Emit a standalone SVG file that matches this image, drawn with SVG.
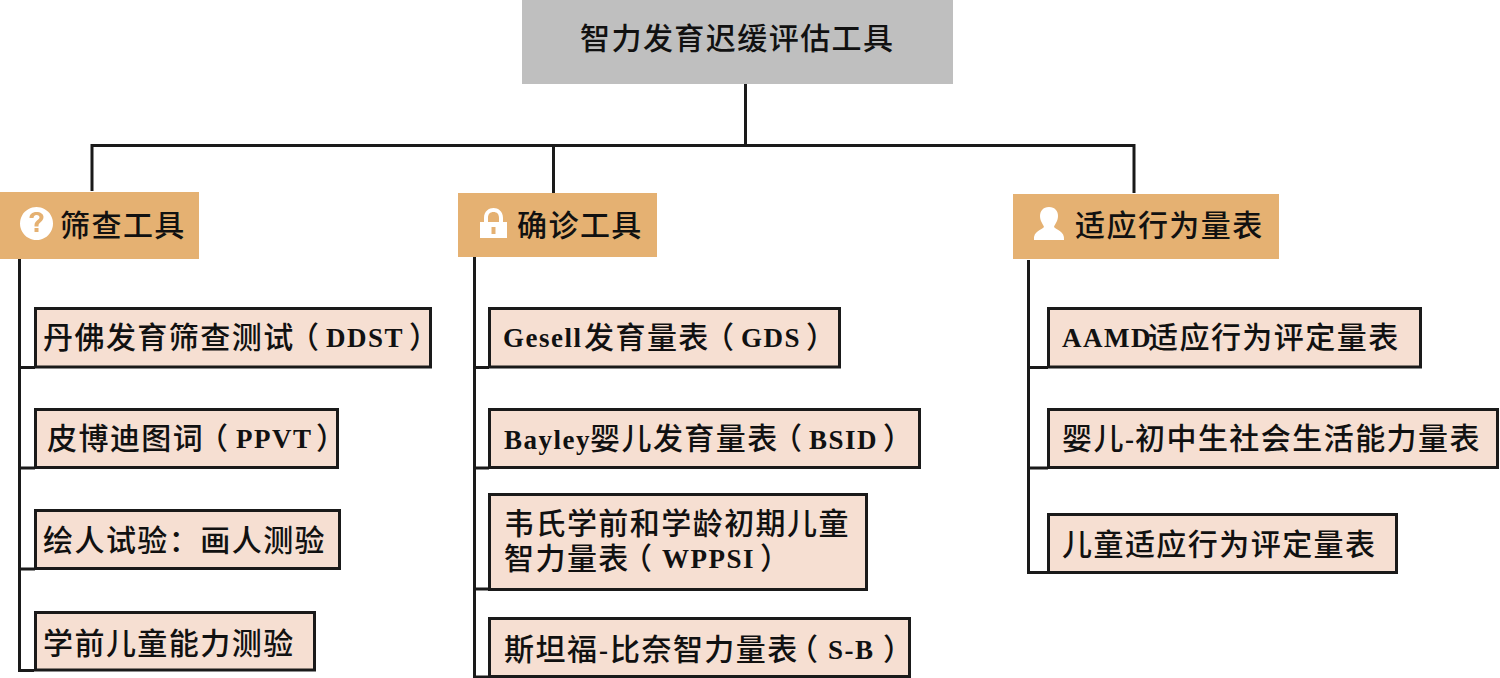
<svg xmlns="http://www.w3.org/2000/svg" width="1500" height="678" viewBox="0 0 1500 678">
<style>
text{font-family:"Noto Sans CJK SC","Liberation Serif",serif;font-size:30px;fill:#111;font-weight:500;letter-spacing:1.45px}
.l{font-family:"Liberation Serif","Noto Sans CJK SC",serif;font-weight:700;font-size:27px;letter-spacing:1.5px}
.root{fill:#bfbfbf}
.cat{fill:#e5b172}
.item{fill:#f6dfd2;stroke:#1a1a1a;stroke-width:3}
.ic{fill:#fff}
#connectors path{fill:none;stroke:#1a1a1a;stroke-width:3}
</style>
<g id="connectors">
<path d="M745.500 84V145.500M92 191V145.500H1134V193M553.500 145.500V193"/>
<path d="M19.500 259V670.500H34M19.500 367.500H35M19.500 468H35M19.500 569H35"/>
<path d="M474.500 257V677H489M474.500 367.500H489M474.500 468H489M474.500 589H489"/>
<path d="M1028.500 260V572.500H1048M1028.500 367.500H1048M1028.500 468H1048"/>
</g>
<g id="root"><rect class="root" x="522" y="0" width="431" height="84"/><text x="580" y="49">智力发育迟缓评估工具</text></g>
<g id="cat1"><rect class="cat" x="0" y="192" width="199" height="67"/>
<path class="ic" fill-rule="evenodd" d="M36.500 207a16.500 16.500 0 1 0 .01 0ZM36.500 212c-4.500 0-7 2.500-7 6h4c0-1.500 1-3 3-3s3 1 3 2.500c0 2.500-5 3-5 8v1h4v-1c0-3 5-4 5-8.500 0-3-3-5-7-5ZM34.500 228h4v4h-4Z"/>
<text x="60" y="236">筛查工具</text></g>
<g id="cat2"><rect class="cat" x="458" y="193" width="199" height="64"/>
<path class="ic" fill-rule="evenodd" d="M480 222h4v-4c0-7 5-10 9.500-10s9.500 3 9.500 10v4h4v16h-27ZM488 222h11v-4c0-4-2-6-5.500-6s-5.500 2-5.500 6ZM491.500 227v7h4v-7Z"/>
<text x="517" y="236">确诊工具</text></g>
<g id="cat3"><rect class="cat" x="1013" y="194" width="266" height="65"/>
<path class="ic" d="M1049 207c6 0 9 4 9 9s-3 8-4 11c2 3 11 4 10 13h-30c-1-9 8-10 10-13-1-3-4-6-4-11s3-9 9-9Z"/>
<text x="1075" y="236">适应行为量表</text></g>
<g id="a1"><rect class="item" x="35.500" y="308.500" width="395" height="58.500"/><text x="43" y="348">丹佛发育筛查测试<tspan x="289">（</tspan><tspan class="l" x="326" y="347">DDST</tspan><tspan x="409" y="348">）</tspan></text></g>
<g id="a2"><rect class="item" x="35.500" y="409.500" width="302" height="58"/><text x="47" y="449">皮博迪图词<tspan x="198">（</tspan><tspan class="l" x="236" y="448">PPVT</tspan><tspan x="316" y="449">）</tspan></text></g>
<g id="a3"><rect class="item" x="35.500" y="510.500" width="304" height="58"/><text x="43" y="551">绘人试验：画人测验</text></g>
<g id="a4"><rect class="item" x="35.500" y="612.500" width="279" height="57.500"/><text x="43" y="654">学前儿童能力测验</text></g>
<g id="b1"><rect class="item" x="489.500" y="308.500" width="350" height="58.500"/><text x="503" y="348"><tspan class="l" y="347">Gesell</tspan><tspan x="584" y="348">发育量表</tspan><tspan x="704">（</tspan><tspan class="l" x="741" y="347">GDS</tspan><tspan x="806" y="348">）</tspan></text></g>
<g id="b2"><rect class="item" x="489.500" y="409.500" width="430" height="58"/><text x="504" y="449"><tspan class="l">Bayley</tspan><tspan x="590">婴儿发育量表</tspan><tspan x="772">（</tspan><tspan class="l" x="809" y="449">BSID</tspan><tspan x="883">）</tspan></text></g>
<g id="b3"><rect class="item" x="489.500" y="494.500" width="377" height="95"/><text x="504" y="534">韦氏学前和学龄初期儿童</text><text x="504" y="569">智力量表<tspan x="622">（</tspan><tspan class="l" x="662" y="568">WPPSI</tspan><tspan x="760" y="569">）</tspan></text></g>
<g id="b4"><rect class="item" x="489.500" y="618.500" width="420" height="58"/><text x="504" y="660">斯坦福<tspan class="l" x="599" y="659">-</tspan><tspan x="610" y="660">比奈智力量表</tspan><tspan x="788">（</tspan><tspan class="l" x="828" y="659">S-B</tspan><tspan x="883" y="660">）</tspan></text></g>
<g id="c1"><rect class="item" x="1048.500" y="308.500" width="372" height="58.500"/><text x="1062" y="347"><tspan class="l">AAMD</tspan><tspan x="1148" y="348">适应行为评定量表</tspan></text></g>
<g id="c2"><rect class="item" x="1048.500" y="409.500" width="449" height="58"/><text x="1062" y="449">婴儿<tspan class="l" x="1125" y="448">-</tspan><tspan x="1135" y="449">初中生社会生活能力量表</tspan></text></g>
<g id="c3"><rect class="item" x="1048.500" y="514.500" width="348" height="58"/><text x="1062" y="555">儿童适应行为评定量表</text></g>
</svg>
